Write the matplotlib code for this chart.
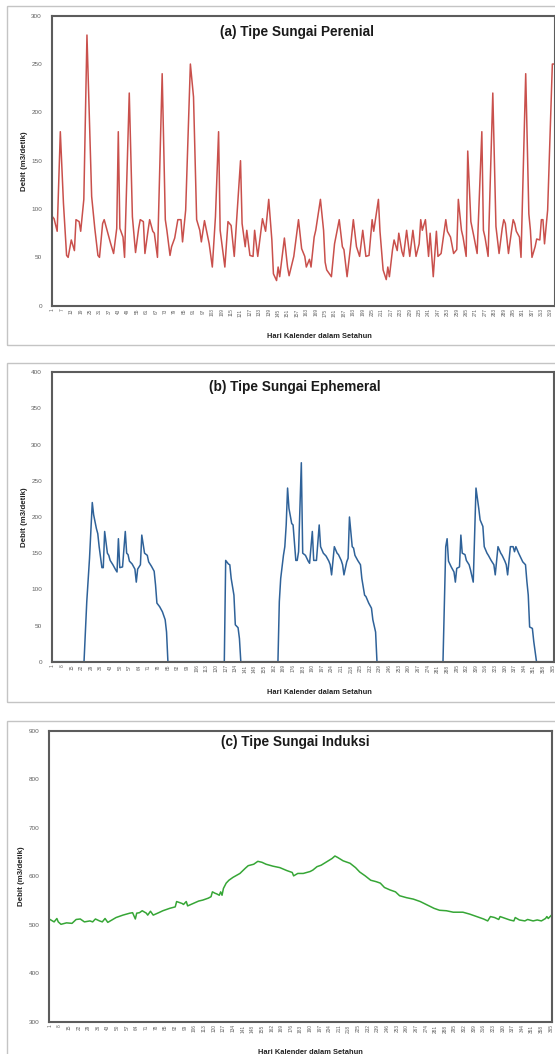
import matplotlib
matplotlib.use("Agg")
import matplotlib.pyplot as plt
from matplotlib.patches import Rectangle

plt.rcParams['font.family'] = ['Liberation Sans', 'DejaVu Sans']

# (a) Sungai perenial: hari, debit (m3/detik)
perenial_hari = [1, 2, 4, 6, 8, 10, 11, 13, 15, 16, 18, 19, 21, 23, 26, 28, 30, 31, 33, 34,
                 36, 38, 40, 42, 43, 44, 46, 47, 50, 52, 54, 56, 57, 59, 60, 62, 63, 65, 66, 68,
                 71, 73, 74, 76, 77, 79, 81, 83, 84, 86, 89, 91, 93, 95, 96, 98, 101, 103, 105, 107,
                 108, 111, 113, 115, 117, 121, 122, 124, 125, 127, 129, 130, 132, 135, 137, 139, 141, 142, 144, 145,
                 146, 149, 151, 152, 155, 158, 160, 162, 163, 165, 166, 168, 169, 172, 174, 175, 176, 179, 181, 184,
                 186, 187, 189, 191, 193, 195, 197, 199, 201, 203, 205, 206, 209, 210, 212, 214, 215, 216, 218, 219,
                 221, 222, 224, 225, 227, 229, 231, 233, 235, 236, 237, 239, 241, 242, 244, 246, 247, 249, 252, 253,
                 255, 257, 259, 260, 262, 263, 265, 266, 268, 270, 272, 275, 276, 277, 279, 282, 284, 286, 288, 289,
                 290, 292, 294, 295, 296, 297, 299, 300, 303, 305, 306, 307, 309, 310, 312, 313, 314, 315, 317, 320,
                 321]
perenial_debit = [92, 90, 77, 180, 106, 52, 50, 68, 57, 89, 87, 77, 110, 280, 113, 80, 52, 50, 85, 89,
                  77, 65, 54, 80, 180, 80, 71, 50, 220, 92, 55, 80, 89, 87, 54, 78, 89, 77, 75, 50,
                  240, 89, 78, 52, 61, 70, 89, 89, 66, 99, 250, 216, 89, 78, 66, 88, 64, 40, 92, 180,
                  78, 40, 87, 83, 51, 150, 85, 61, 78, 52, 51, 78, 51, 90, 77, 110, 68, 33, 26, 40,
                  30, 70, 40, 31, 51, 89, 59, 51, 40, 48, 40, 71, 78, 110, 78, 45, 37, 30, 64, 89,
                  61, 58, 30, 58, 89, 61, 51, 78, 51, 52, 89, 77, 110, 77, 37, 27, 40, 30, 58, 68,
                  57, 75, 56, 51, 78, 51, 78, 51, 64, 89, 78, 89, 51, 75, 30, 77, 51, 54, 89, 77,
                  71, 54, 58, 110, 78, 71, 51, 160, 87, 71, 54, 180, 78, 71, 51, 220, 82, 54, 80, 89,
                  85, 54, 78, 89, 85, 77, 71, 50, 240, 95, 78, 50, 61, 69, 68, 89, 89, 64, 99, 250,
                  250]

# (b) Sungai ephemeral
ephemeral_hari = [1, 24, 26, 28, 30, 31, 33, 34, 35, 37, 38, 39, 41, 42, 43, 45, 47, 48, 49, 50,
                  52, 54, 55, 56, 57, 59, 61, 62, 63, 65, 66, 68, 70, 71, 73, 75, 76, 77, 79, 81,
                  83, 84, 85, 126, 127, 129, 130, 131, 133, 134, 136, 137, 138, 165, 166, 167, 169, 170, 171, 172,
                  173, 175, 176, 178, 179, 180, 182, 183, 185, 187, 188, 190, 191, 193, 195, 196, 198, 200, 202, 203,
                  204, 206, 208, 209, 211, 212, 213, 215, 216, 217, 219, 220, 221, 223, 225, 226, 228, 229, 231, 233,
                  234, 236, 237, 285, 286, 287, 288, 289, 291, 293, 294, 295, 297, 298, 299, 301, 302, 304, 305, 307,
                  309, 311, 312, 314, 315, 317, 318, 320, 322, 323, 325, 327, 328, 330, 331, 332, 334, 336, 337, 338,
                  340, 341, 343, 345, 346, 347, 348, 350, 351, 353, 365]
ephemeral_debit = [0, 0, 83, 143, 220, 203, 184, 177, 159, 130, 130, 180, 150, 147, 140, 134, 127, 124, 170, 130,
                   131, 180, 150, 148, 139, 135, 128, 110, 128, 134, 175, 150, 147, 138, 132, 125, 106, 81, 76, 69,
                   58, 41, 0, 0, 140, 135, 134, 115, 92, 51, 47, 32, 0, 0, 83, 115, 147, 159, 189, 240,
                   212, 191, 189, 140, 140, 152, 275, 150, 147, 139, 136, 180, 140, 140, 189, 159, 150, 146, 139, 134,
                   120, 159, 150, 148, 140, 134, 120, 138, 143, 200, 159, 157, 147, 140, 134, 115, 92, 90, 81, 74,
                   58, 41, 0, 0, 78, 159, 170, 139, 131, 124, 110, 129, 131, 175, 150, 148, 140, 134, 127, 110,
                   240, 212, 196, 187, 159, 150, 147, 140, 134, 120, 159, 150, 147, 139, 134, 120, 159, 159, 152, 159,
                   150, 146, 138, 134, 111, 92, 48, 46, 28, 0, 0]

# (c) Sungai induksi
induksi_hari = [1, 4, 6, 7, 9, 13, 17, 20, 23, 26, 30, 32, 34, 37, 39, 41, 43, 46, 49, 54,
                59, 61, 63, 64, 66, 68, 71, 72, 74, 76, 80, 83, 88, 92, 93, 97, 98, 100, 101, 105,
                109, 112, 116, 118, 119, 121, 122, 124, 125, 126, 127, 129, 131, 134, 139, 143, 145, 149, 152, 155,
                158, 163, 168, 173, 177, 178, 181, 185, 190, 192, 195, 198, 202, 206, 208, 210, 214, 219, 223, 226,
                230, 234, 238, 241, 244, 248, 252, 255, 260, 265, 270, 275, 280, 284, 289, 294, 301, 306, 311, 316,
                319, 321, 324, 327, 328, 332, 335, 338, 339, 342, 346, 348, 352, 355, 358, 361, 362, 363, 365]
induksi_debit = [511, 506, 513, 506, 501, 504, 503, 511, 512, 506, 508, 506, 512, 508, 506, 513, 505, 510, 515, 520,
                 524, 525, 512, 524, 525, 529, 524, 520, 528, 520, 525, 529, 534, 537, 548, 544, 542, 548, 539, 544,
                 549, 551, 555, 558, 568, 565, 564, 561, 568, 561, 575, 586, 592, 598, 606, 617, 622, 625, 631, 629,
                 625, 621, 618, 612, 608, 601, 606, 606, 610, 613, 620, 623, 630, 637, 642, 639, 632, 627, 618, 609,
                 601, 592, 589, 586, 577, 572, 568, 560, 556, 553, 548, 541, 534, 530, 529, 526, 526, 522, 517, 512,
                 508, 517, 515, 511, 517, 513, 510, 508, 515, 510, 508, 511, 508, 510, 508, 513, 517, 513, 519]

W, H = 555, 1054
fig = plt.figure(figsize=(W / 100, H / 100), dpi=100)


def fx(px):
    return px / W


def fy(px):
    return 1 - px / H


def panel(box_top, box_bot, left, right, top, bottom, hari, debit, color, title,
          n_hari, tick_step, ylim, ystep, title_xy, xlabel_x):
    fig.add_artist(Rectangle((fx(7), fy(box_bot)), 1.0, (box_bot - box_top) / H,
                             transform=fig.transFigure, fill=False,
                             edgecolor='#c4c4c4', lw=1.0))
    ax = fig.add_axes([fx(left), fy(bottom), (right - left) / W, (bottom - top) / H])
    ax.plot(hari, debit, color=color, lw=1.1)
    ax.set_xlim(0.5, n_hari + 0.5)
    ax.set_ylim(*ylim)
    ticks = list(range(1, n_hari + 1, tick_step))
    ax.set_xticks(ticks)
    ax.set_xticklabels([str(t) for t in ticks], rotation=90, fontsize=3.4, color='#606060')
    ax.set_yticks(range(ylim[0], ylim[1] + 1, ystep))
    ax.tick_params(axis='y', length=0, pad=7, labelsize=4.6, labelcolor='#606060')
    ax.tick_params(axis='x', length=0, pad=2)
    for s in ax.spines.values():
        s.set_color('#5c5c5c')
        s.set_linewidth(1.5)
    ax.set_ylabel('Debit (m3/detik)', fontsize=5.7, fontweight='bold', color='#222222')
    ax.yaxis.set_label_coords(-0.048, 0.5)
    ax.set_xlabel('Hari Kalender dalam Setahun', fontsize=5.4, fontweight='bold', color='#222222')
    ax.xaxis.set_label_coords(xlabel_x, -0.094)
    ax.text(title_xy[0], title_xy[1], title, transform=ax.transAxes, ha='center', va='center',
            fontsize=9.8, fontweight='bold', color='#1a1a1a')
    return ax


panel(5.7, 345, 51.7, 554.7, 15.7, 305.7, perenial_hari, perenial_debit, '#c9504c',
      '(a) Tipe Sungai Perenial', 321, 6, (0, 300), 50, (0.488, 0.944), 0.533)
panel(362.7, 702, 51.7, 553.7, 372.3, 661.7, ephemeral_hari, ephemeral_debit, '#2f6299',
      '(b) Tipe Sungai Ephemeral', 365, 7, (0, 400), 50, (0.484, 0.949), 0.533)
panel(720.7, 1070, 49.3, 551.7, 731, 1021.7, induksi_hari, induksi_debit, '#36a636',
      '(c) Tipe Sungai Induksi', 365, 7, (300, 900), 100, (0.49, 0.962), 0.519)

fig.savefig('out.png', dpi=100)
